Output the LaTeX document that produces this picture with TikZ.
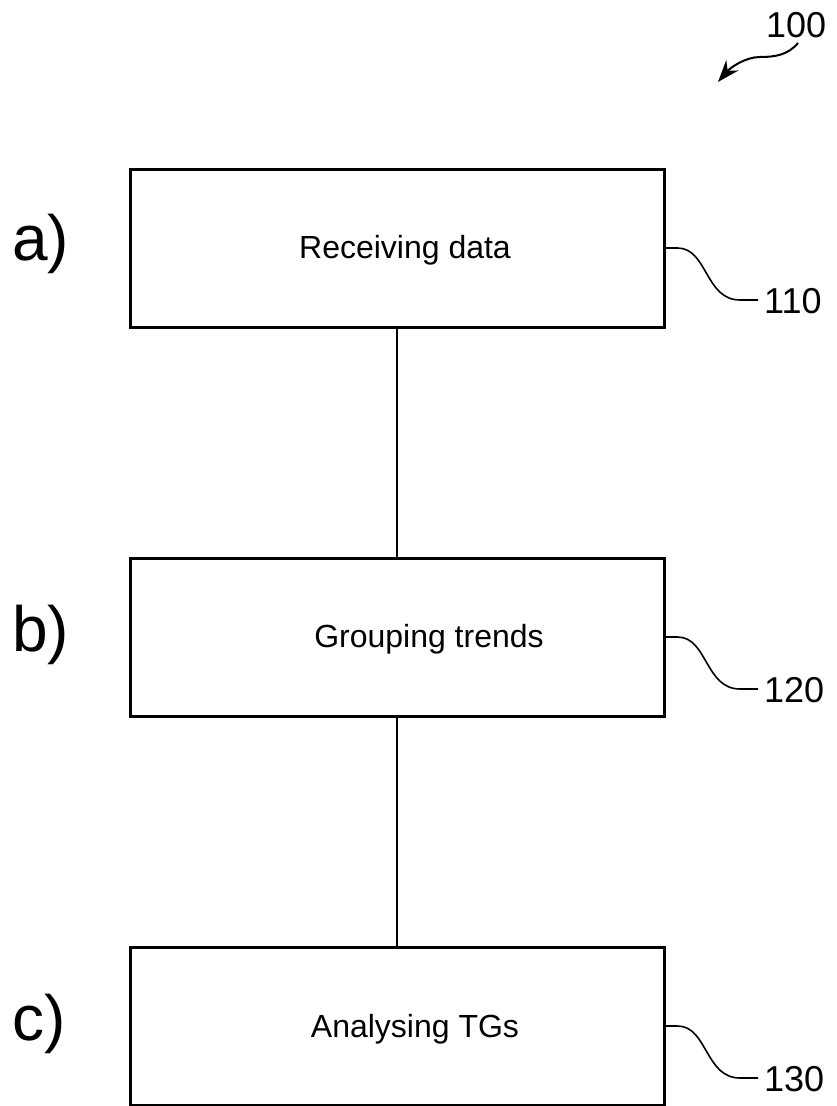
\documentclass[tikz,border=0pt]{standalone}
\usepackage{fontspec}
\setmainfont{Liberation Sans}
\usetikzlibrary{arrows.meta}
\begin{document}
\begin{tikzpicture}[x=1pt,y=-1pt,
  stepbox/.style={draw=black,line width=3pt,minimum width=534pt,minimum height=158pt,inner sep=0pt,fill=white},
  boxtext/.style={inner sep=0pt,anchor=base,font=\fontsize{32}{36}\selectfont},
  steplabel/.style={inner sep=0pt,anchor=base west,font=\fontsize{64}{72}\selectfont},
  refnum/.style={inner sep=0pt,anchor=base west,font=\fontsize{36}{40}\selectfont},
  connector/.style={draw=black,line width=2pt},
  leader/.style={draw=black,line width=1.6pt}]
\useasboundingbox (0,0) rectangle (836,1106);
\fill[white] (0,0) rectangle (836,1106);
% boxes
\node[stepbox] (b1) at (397,248) {};
\node[stepbox] (b2) at (397,637) {};
\node[stepbox] (b3) at (397,1026) {};
% box texts
\node[boxtext] (t1) at (405,258) {Receiving data};
\node[boxtext] (t2) at (429,647) {Grouping trends};
\node[boxtext] (t3) at (415,1037) {Analysing TGs};
% step labels
\node[steplabel] (la) at (12,260) {a)};
\node[steplabel] (lb) at (12,651) {b)};
\node[steplabel] (lc) at (12,1040) {c)};
% connectors
\draw[connector] (b1.south) -- (b2.north);
\draw[connector] (b2.south) -- (b3.north);
% reference numerals
\node[refnum] (n110) at (764,313) {110};
\node[refnum] (n120) at (764,702) {120};
\node[refnum] (n130) at (764,1091) {130};
\node[refnum] (n100) at (766,37) {100};
% leader lines
\coordinate (e110) at (758,300);
\coordinate (e120) at (758,689);
\coordinate (e130) at (758,1078);
\draw[leader] (b1.east) -- ++(12,0) .. controls ++(30,0) and (705,300) .. (740,300) -- (e110);
\draw[leader] (b2.east) -- ++(12,0) .. controls ++(30,0) and (705,689) .. (740,689) -- (e120);
\draw[leader] (b3.east) -- ++(12,0) .. controls ++(30,0) and (705,1078) .. (740,1078) -- (e130);
% arrow 100
\coordinate (a100) at (798,43);
\coordinate (tip100) at (718,82);
\draw[line width=2pt,-{Stealth[length=22pt,width=16pt]}] (a100) .. controls (788,55) and (775,57) .. (760,57) .. controls (745,57) and (730,68) .. (tip100);
\end{tikzpicture}
\end{document}
